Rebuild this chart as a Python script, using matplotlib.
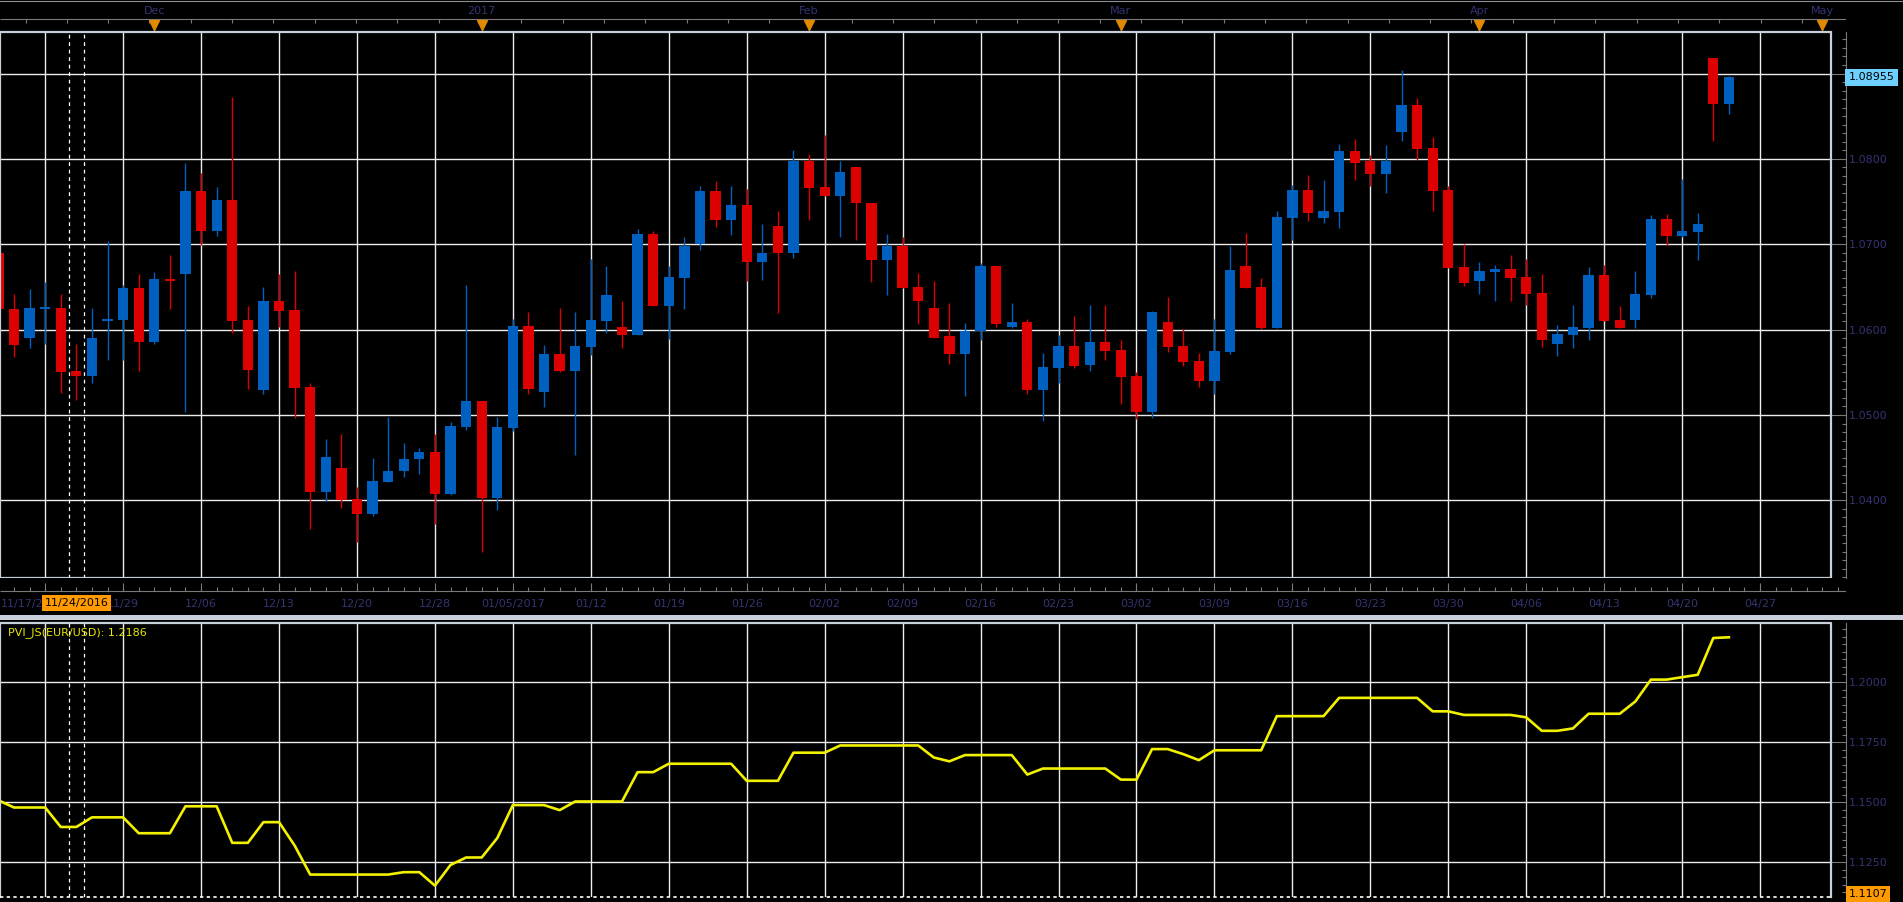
import numpy as np
import matplotlib.pyplot as plt
from matplotlib.patches import Rectangle
from matplotlib.lines import Line2D
from matplotlib.ticker import MultipleLocator

plt.rcParams['font.family'] = 'DejaVu Sans'
plt.rcParams['font.size'] = 8

# EUR/USD daily candles (index = trading day on the chart)
opens = [1.0690, 1.0624, 1.0590, 1.0625, 1.0625, 1.0552, 1.0546, 1.0610, 1.0611, 1.0649,
         1.0586, 1.0659, 1.0665, 1.0762, 1.0715, 1.0752, 1.0611, 1.0529, 1.0633, 1.0623,
         1.0533, 1.0410, 1.0438, 1.0402, 1.0384, 1.0422, 1.0434, 1.0448, 1.0457, 1.0407,
         1.0486, 1.0516, 1.0403, 1.0485, 1.0604, 1.0527, 1.0571, 1.0552, 1.0580, 1.0610,
         1.0603, 1.0594, 1.0712, 1.0628, 1.0661, 1.0700, 1.0762, 1.0729, 1.0746, 1.0679,
         1.0721, 1.0690, 1.0797, 1.0767, 1.0757, 1.0790, 1.0748, 1.0681, 1.0698, 1.0650,
         1.0625, 1.0592, 1.0572, 1.0598, 1.0674, 1.0603, 1.0609, 1.0529, 1.0555, 1.0581,
         1.0559, 1.0586, 1.0576, 1.0546, 1.0504, 1.0609, 1.0581, 1.0563, 1.0540, 1.0574,
         1.0674, 1.0650, 1.0602, 1.0731, 1.0764, 1.0731, 1.0738, 1.0809, 1.0797, 1.0782,
         1.0831, 1.0863, 1.0813, 1.0764, 1.0673, 1.0657, 1.0668, 1.0671, 1.0662, 1.0643,
         1.0583, 1.0594, 1.0602, 1.0664, 1.0611, 1.0611, 1.0641, 1.0730, 1.0710, 1.0714,
         1.0918, 1.0864]
highs = [1.0696, 1.0642, 1.0648, 1.0656, 1.0642, 1.0583, 1.0625, 1.0704, 1.0652, 1.0665,
         1.0668, 1.0688, 1.0795, 1.0783, 1.0767, 1.0873, 1.0628, 1.0650, 1.0665, 1.0669,
         1.0538, 1.0472, 1.0478, 1.0416, 1.0450, 1.0498, 1.0467, 1.0461, 1.0478, 1.0492,
         1.0652, 1.0516, 1.0498, 1.0613, 1.0621, 1.0582, 1.0625, 1.0621, 1.0683, 1.0674,
         1.0633, 1.0718, 1.0715, 1.0674, 1.0709, 1.0768, 1.0774, 1.0768, 1.0765, 1.0724,
         1.0739, 1.0810, 1.0806, 1.0828, 1.0797, 1.0790, 1.0748, 1.0712, 1.0709, 1.0666,
         1.0657, 1.0631, 1.0608, 1.0678, 1.0674, 1.0631, 1.0613, 1.0573, 1.0594, 1.0616,
         1.0629, 1.0629, 1.0588, 1.0550, 1.0622, 1.0638, 1.0601, 1.0573, 1.0613, 1.0698,
         1.0713, 1.0661, 1.0739, 1.0769, 1.0781, 1.0775, 1.0817, 1.0823, 1.0804, 1.0816,
         1.0904, 1.0871, 1.0826, 1.0768, 1.0700, 1.0679, 1.0676, 1.0688, 1.0683, 1.0665,
         1.0605, 1.0629, 1.0673, 1.0676, 1.0628, 1.0669, 1.0734, 1.0735, 1.0776, 1.0737,
         1.0918, 1.0897]
lows = [1.0618, 1.0568, 1.0578, 1.0583, 1.0526, 1.0518, 1.0538, 1.0564, 1.0564, 1.0552,
        1.0583, 1.0624, 1.0504, 1.0699, 1.0710, 1.0596, 1.0531, 1.0525, 1.0603, 1.0496,
        1.0366, 1.0399, 1.0391, 1.0351, 1.0382, 1.0422, 1.0427, 1.0431, 1.0372, 1.0406,
        1.0483, 1.0340, 1.0389, 1.0481, 1.0525, 1.0509, 1.0550, 1.0453, 1.0570, 1.0596,
        1.0578, 1.0594, 1.0628, 1.0589, 1.0624, 1.0693, 1.0720, 1.0711, 1.0657, 1.0658,
        1.0619, 1.0684, 1.0728, 1.0757, 1.0709, 1.0705, 1.0656, 1.0640, 1.0649, 1.0607,
        1.0590, 1.0560, 1.0522, 1.0588, 1.0603, 1.0602, 1.0525, 1.0493, 1.0537, 1.0555,
        1.0551, 1.0564, 1.0513, 1.0495, 1.0497, 1.0574, 1.0558, 1.0533, 1.0525, 1.0571,
        1.0649, 1.0601, 1.0602, 1.0705, 1.0727, 1.0725, 1.0719, 1.0775, 1.0768, 1.0760,
        1.0821, 1.0799, 1.0739, 1.0672, 1.0651, 1.0642, 1.0633, 1.0633, 1.0629, 1.0580,
        1.0569, 1.0579, 1.0588, 1.0610, 1.0602, 1.0602, 1.0637, 1.0699, 1.0709, 1.0681,
        1.0821, 1.0852]
closes = [1.0624, 1.0582, 1.0625, 1.0626, 1.0550, 1.0546, 1.0590, 1.0612, 1.0649, 1.0586,
          1.0659, 1.0657, 1.0762, 1.0715, 1.0752, 1.0610, 1.0553, 1.0633, 1.0622, 1.0532,
          1.0410, 1.0451, 1.0401, 1.0384, 1.0423, 1.0435, 1.0449, 1.0457, 1.0407, 1.0487,
          1.0516, 1.0403, 1.0486, 1.0604, 1.0531, 1.0571, 1.0552, 1.0581, 1.0611, 1.0640,
          1.0594, 1.0712, 1.0628, 1.0662, 1.0698, 1.0762, 1.0729, 1.0746, 1.0679, 1.0690,
          1.0690, 1.0797, 1.0766, 1.0757, 1.0785, 1.0748, 1.0681, 1.0698, 1.0649, 1.0633,
          1.0590, 1.0572, 1.0598, 1.0674, 1.0607, 1.0609, 1.0529, 1.0556, 1.0581, 1.0558,
          1.0586, 1.0575, 1.0545, 1.0504, 1.0621, 1.0580, 1.0562, 1.0540, 1.0575, 1.0670,
          1.0649, 1.0602, 1.0732, 1.0764, 1.0737, 1.0739, 1.0809, 1.0795, 1.0782, 1.0797,
          1.0863, 1.0812, 1.0762, 1.0672, 1.0655, 1.0669, 1.0671, 1.0661, 1.0642, 1.0588,
          1.0595, 1.0603, 1.0664, 1.0610, 1.0602, 1.0642, 1.0730, 1.0710, 1.0716, 1.0724,
          1.0864, 1.0896]

# Positive Volume Index
pvi = [1.1508, 1.1478, 1.1478, 1.1478, 1.1397, 1.1397, 1.1437, 1.1437, 1.1437, 1.1371,
       1.1371, 1.1371, 1.1483, 1.1483, 1.1483, 1.1331, 1.1331, 1.1417, 1.1417, 1.1320,
       1.1199, 1.1199, 1.1199, 1.1199, 1.1199, 1.1199, 1.1209, 1.1209, 1.1153, 1.1239,
       1.1270, 1.1270, 1.1351, 1.1488, 1.1488, 1.1488, 1.1467, 1.1503, 1.1503, 1.1503,
       1.1503, 1.1625, 1.1625, 1.1660, 1.1660, 1.1660, 1.1660, 1.1660, 1.1589, 1.1589,
       1.1589, 1.1706, 1.1706, 1.1706, 1.1736, 1.1736, 1.1736, 1.1736, 1.1736, 1.1736,
       1.1686, 1.1670, 1.1696, 1.1696, 1.1696, 1.1696, 1.1615, 1.1640, 1.1640, 1.1640,
       1.1640, 1.1640, 1.1594, 1.1594, 1.1721, 1.1721, 1.1700, 1.1675, 1.1716, 1.1716,
       1.1716, 1.1716, 1.1858, 1.1858, 1.1858, 1.1858, 1.1934, 1.1934, 1.1934, 1.1934,
       1.1934, 1.1934, 1.1878, 1.1878, 1.1863, 1.1863, 1.1863, 1.1863, 1.1853, 1.1797,
       1.1797, 1.1807, 1.1868, 1.1868, 1.1868, 1.1919, 1.2010, 1.2010, 1.2020, 1.2030,
       1.2183, 1.2186]

date_ticks = [8, 13, 18, 23, 28, 33, 38, 43, 48, 53, 58, 63, 68, 73, 78, 83, 88, 93, 98, 103, 108, 113]
date_labels = ['11/29', '12/06', '12/13', '12/20', '12/28', '01/05/2017', '01/12', '01/19', '01/26',
               '02/02', '02/09', '02/16', '02/23', '03/02', '03/09', '03/16', '03/23', '03/30',
               '04/06', '04/13', '04/20', '04/27']
first_tick = 3
first_label = '11/17/2016'
month_ticks = [10, 31, 52, 72, 95, 117]
month_labels = ['Dec', '2017', 'Feb', 'Mar', 'Apr', 'May']
price_ticks = [1.04, 1.05, 1.06, 1.07, 1.08, 1.09]
pvi_ticks = [1.125, 1.15, 1.175, 1.2]
cursor_day = 5
cursor_label = '11/24/2016'
last_price = 1.08955

W, H = 1903, 902
BG = 'black'
GRID = '#ececec'
FRAME = '#c8d0dc'
AXIS = '#7a7a7a'
LABEL = '#343474'
UP = '#0060c0'
DOWN = '#dd0000'
ORANGE = '#ff9a00'


def rect(l, t, r, b):
    return [l / W, 1 - b / H, (r - l) / W, (b - t) / H]


def px2i(px):
    return (px + 1.6) / 15.59


x_lo, x_hi, x_frame = px2i(0), px2i(1845.7), px2i(1830.7)

fig = plt.figure(figsize=(W / 100, H / 100), dpi=100, facecolor=BG)

ax_top = fig.add_axes(rect(0, 0, 1845.7, 31.5))
ax = fig.add_axes(rect(0, 31.5, 1845.7, 577.5))
ax_dt = fig.add_axes(rect(0, 577.5, 1845.7, 615))
ax_pvi = fig.add_axes(rect(0, 622.5, 1845.7, 897))

for a in (ax_top, ax, ax_dt, ax_pvi):
    a.set_facecolor(BG)
    a.set_xlim(x_lo, x_hi)
    a.set_xticks([])
    for s in ('left', 'top', 'bottom', 'right'):
        a.spines[s].set_visible(False)
for a in (ax_top, ax_dt):
    a.set_yticks([])

# ---- price panel ----
o = np.array(opens)
c = np.array(closes)
idx = np.arange(len(o))
colors = np.where(c >= o, UP, DOWN)
ylo, yhi = 1.03097, 1.09492
ax.set_ylim(ylo, yhi)

ax.vlines(idx, lows, highs, colors=colors, lw=1.0, zorder=3)
body = np.maximum(np.abs(c - o), 0.00025)
bottom = np.minimum(o, c) - (body - np.abs(c - o)) / 2
ax.bar(idx, body, bottom=bottom, width=0.66, color=colors, linewidth=0, zorder=4)

ax.vlines([first_tick] + date_ticks, ylo, yhi, color=GRID, lw=1.0, zorder=1)
ax.hlines(price_ticks, x_lo, x_frame, color=GRID, lw=1.0, zorder=1)
ax.add_patch(Rectangle((x_lo, ylo), x_frame - x_lo, yhi - ylo, fill=False,
                       ec=FRAME, lw=1.6, zorder=5, clip_on=False))
for xv in (cursor_day - 0.5, cursor_day + 0.5):
    ax.axvline(xv, color='white', lw=0.9, ls=(0, (3, 3)), zorder=2)

ax.spines['right'].set_visible(True)
ax.spines['right'].set_color(AXIS)
ax.yaxis.tick_right()
ax.set_yticks(price_ticks)
ax.set_yticklabels(['%.4f' % p for p in price_ticks[:-1]] + [''])
ax.yaxis.set_minor_locator(MultipleLocator(0.001))
ax.tick_params(axis='y', which='major', direction='in', length=10.8, width=0.8,
               color=AXIS, labelcolor=LABEL, pad=2)
ax.tick_params(axis='y', which='minor', direction='in', length=3, width=0.8, color=AXIS)
ax.text(1.0016, last_price, '1.08955', transform=ax.get_yaxis_transform(), ha='left',
        va='center', color='black', zorder=10,
        bbox=dict(boxstyle='square,pad=0.3', fc='#6dd0ff', ec='none'))

# ---- month strip on top ----
ax_top.set_ylim(31.5, 0)
ax_top.hlines(19.3, x_lo, x_hi, color=AXIS, lw=0.8)
ax_top.vlines(np.arange(1.74, 118, 2.65), 19.3, 23, color=AXIS, lw=0.8)
ax_top.vlines(month_ticks, 19.3, 31.5, color=AXIS, lw=0.8)
ax_top.plot(month_ticks, [25] * len(month_ticks), ls='none', marker='v', ms=7,
            color='#e08a00', mec='#e08a00')
for m, lab in zip(month_ticks, month_labels):
    ax_top.text(m, 10.5, lab, ha='center', va='center', color=LABEL)

# ---- date strip ----
ax_dt.set_ylim(615, 577.5)
ax_dt.hlines(590.7, x_lo, x_hi, color=AXIS, lw=0.8)
ax_dt.vlines(np.arange(0, 119), 587.5, 590.7, color=AXIS, lw=0.8)
ax_dt.vlines([first_tick] + date_ticks, 583.5, 590.7, color=AXIS, lw=0.8)
ax_dt.text(x_lo + 0.05, 604, first_label, ha='left', va='center', color=LABEL)
for d, lab in zip(date_ticks, date_labels):
    ax_dt.text(d, 604, lab, ha='center', va='center', color=LABEL)
ax_dt.text(cursor_day, 603, cursor_label, ha='center', va='center', color='black', zorder=10,
           bbox=dict(boxstyle='square,pad=0.25', fc=ORANGE, ec='none'))

fig.add_artist(Rectangle((0, 1 - 620 / H), 1, 5 / H, transform=fig.transFigure,
                         fc=FRAME, ec='none'))
fig.add_artist(Line2D([0, 1], [1 - 0.5 / H, 1 - 0.5 / H], transform=fig.transFigure,
                      color='#8a9098', lw=0.8))

# ---- PVI panel ----
plo, phi = 1.11057, 1.22475
ax_pvi.set_ylim(plo, phi)
ax_pvi.vlines([first_tick] + date_ticks, plo, phi, color=GRID, lw=1.0, zorder=1)
ax_pvi.hlines(pvi_ticks, x_lo, x_frame, color=GRID, lw=1.0, zorder=1)
ax_pvi.plot([x_lo, x_lo, x_frame, x_frame], [plo, phi, phi, plo], color=FRAME, lw=1.6,
            clip_on=False, zorder=5)
ax_pvi.hlines(plo, x_lo, x_frame, color='white', lw=1.2, ls=(0, (2, 2)), clip_on=False, zorder=5)
for xv in (cursor_day - 0.5, cursor_day + 0.5):
    ax_pvi.axvline(xv, color='white', lw=0.9, ls=(0, (3, 3)), zorder=2)
ax_pvi.plot(idx, pvi, color='#f2f200', lw=1.9, zorder=4)

ax_pvi.spines['right'].set_visible(True)
ax_pvi.spines['right'].set_color(AXIS)
ax_pvi.yaxis.tick_right()
ax_pvi.set_yticks(pvi_ticks)
ax_pvi.set_yticklabels(['%.4f' % p for p in pvi_ticks])
ax_pvi.yaxis.set_minor_locator(MultipleLocator(0.003125))
ax_pvi.tick_params(axis='y', which='major', direction='in', length=10.8, width=0.8,
                   color=AXIS, labelcolor=LABEL, pad=2)
ax_pvi.tick_params(axis='y', which='minor', direction='in', length=3, width=0.8, color=AXIS)
ax_pvi.text(8 / 1845.7, 0.965, 'PVI_JS(EUR/USD): %.4f' % pvi[-1], transform=ax_pvi.transAxes,
            ha='left', va='center', color='#e8e800', zorder=10)
ax_pvi.text(1.0016, 1.1118, '1.1107', transform=ax_pvi.get_yaxis_transform(), ha='left',
            va='center', color='black', zorder=10,
            bbox=dict(boxstyle='square,pad=0.25', fc=ORANGE, ec='none'))

fig.savefig('out.png', dpi=100, facecolor=BG)
